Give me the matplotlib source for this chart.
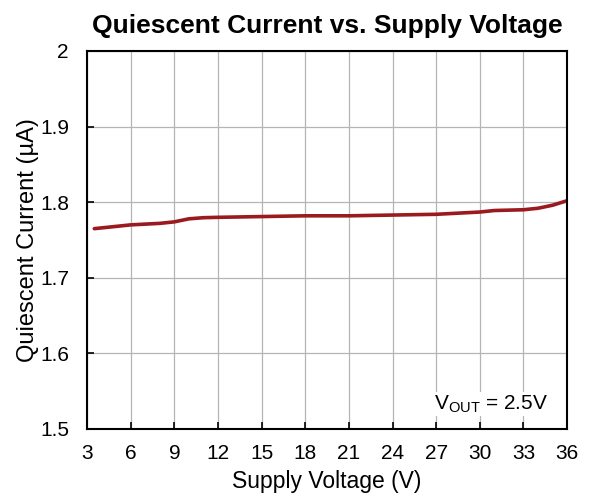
import matplotlib.pyplot as plt
import numpy as np

plt.rcParams['font.family'] = ['Liberation Sans', 'DejaVu Sans']

# Supply voltage (V) and quiescent current (uA)
supply_v = [3.5, 5, 6, 7, 8, 9, 9.5, 10, 11, 12, 15, 18, 21, 24, 27, 30, 31, 33, 34, 35, 36]
iq_ua = [1.765, 1.768, 1.770, 1.771, 1.772, 1.774, 1.776, 1.778, 1.7795, 1.780, 1.781, 1.782,
         1.782, 1.783, 1.784, 1.787, 1.789, 1.790, 1.792, 1.796, 1.802]

x_ticks = np.arange(3, 37, 3)
y_ticks = [1.5, 1.6, 1.7, 1.8, 1.9, 2.0]
y_labels = ["1.5", "1.6", "1.7", "1.8", "1.9", "2"]

fig = plt.figure(figsize=(5.92, 5), dpi=100)
ax = fig.add_axes([0.147, 0.142, 0.811, 0.756])

ax.plot(supply_v, iq_ua, color="#9A1A1F", linewidth=2.6, solid_capstyle="round")

ax.set_xlim(3, 36)
ax.set_ylim(1.5, 2.0)
ax.set_xticks(x_ticks)
ax.set_yticks(y_ticks)
ax.set_yticklabels(y_labels)
ax.grid(True, color="#b5b5b5", linewidth=0.9)
ax.set_axisbelow(True)
ax.tick_params(direction="in", length=5, width=1.2, labelsize=15)
ax.tick_params(axis="x", pad=11)
ax.tick_params(axis="y", pad=13)
for s in ax.spines.values():
    s.set_linewidth(1.5)

ax.set_xlabel("Supply Voltage (V)", fontsize=16.5, labelpad=5)
ax.set_ylabel("Quiescent Current (\u00b5A)", fontsize=17, labelpad=1)
ax.set_title("Quiescent Current vs. Supply Voltage", fontsize=19, fontweight="bold", pad=13)

ax.text(0.96, 0.053, r"V$_{\mathregular{OUT}}$ = 2.5V", transform=ax.transAxes,
        ha="right", va="baseline", fontsize=15,
        bbox=dict(facecolor="white", edgecolor="none", pad=1))

fig.savefig("out.png", dpi=100)
